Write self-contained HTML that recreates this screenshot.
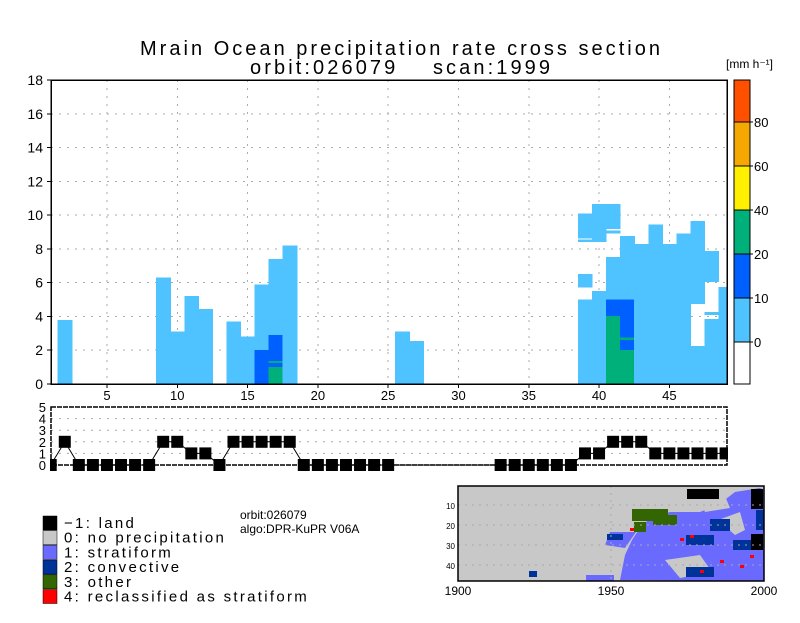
<!DOCTYPE html>
<html><head><meta charset="utf-8">
<style>
body{margin:0;background:#fff;}
svg text{font-family:"Liberation Sans","DejaVu Sans",sans-serif;fill:#000;}
</style></head>
<body>
<svg id="chart" width="800" height="618" xmlns="http://www.w3.org/2000/svg">
<text x="400" y="55" text-anchor="middle" font-size="20" textLength="520">Mrain Ocean precipitation rate cross section</text>
<text x="400" y="74" text-anchor="middle" font-size="20" textLength="300" xml:space="preserve">orbit:026079    scan:1999</text>
<g id="main" shape-rendering="crispEdges"></g>
<g id="cbar"></g>
<g id="lower"></g>
<text x="240" y="519" font-size="12">orbit:026079</text>
<text x="240" y="533" font-size="12">algo:DPR-KuPR V06A</text>
<g id="legend"></g>
<g id="map"></g>
</svg>
<script>
const NS="http://www.w3.org/2000/svg";
function mk(tag,attrs,parent){const e=document.createElementNS(NS,tag);for(const k in attrs)e.setAttribute(k,attrs[k]);parent.appendChild(e);return e;}
// ---- data ----
const xTicks=[5,10,15,20,25,30,35,40,45];
const yTicks=[0,2,4,6,8,10,12,14,16,18];
const cbLevels=[0,10,20,40,60,80];
const cbColors=["#ffffff","#4fc3ff","#0060ff","#00b07a","#ffef00","#f5a800","#ff5000"];
const segBins=[2,9,10,11,12,14,15,16,16,17,17,17,17,18,26,27,
39,39,39,39,40,40,41,41,41,41,41,42,42,42,42,42,43,44,45,46,47,47,48,48,48,49];
const segBottom=[0,0,0,0,0,0,0,0,0,0,0,0,1.25,0,0,0,
0,5.7,8.62,8.42,0,8.42,0,4.02,0,8.9,9.17,0,2.0,2.62,0,2.74,0,0,0,0,0,4.73,0,4.1,6.05,0];
const segTop=[3.8,6.3,3.1,5.2,4.45,3.7,2.8,5.9,2.0,7.4,2.9,1.0,1.35,8.2,3.1,2.55,
5.0,6.5,10.1,8.55,5.5,10.65,7.53,5.0,4.02,9.1,10.65,8.76,5.0,2.74,2.0,2.62,8.28,9.43,8.28,8.9,2.25,9.64,3.85,4.26,7.87,5.74];
const segColor=[1,1,1,1,1,1,1,1,2,1,2,3,3,1,1,1,
1,1,1,1,1,1,1,2,3,1,1,1,2,3,3,2,1,1,1,1,1,1,1,1,1,1];
const typeBins=[];for(let i=1;i<=49;i++)typeBins.push(i);
const typeVals=[0,2,0,0,0,0,0,0,2,2,1,1,0,2,2,2,2,2,0,0,0,0,0,0,0,null,null,null,null,null,null,null,0,0,0,0,0,0,1,1,2,2,2,1,1,1,1,1,1];
// ---- axes ----
const X0=51,X1=727,Y0=80,Y1=384;
const xmin=1.02,xmax=49.1;
const sx=v=>X0+(v-xmin)/(xmax-xmin)*(X1-X0);
const sy=v=>Y1-v/18*(Y1-Y0);
const main=document.getElementById('main');
mk('rect',{x:X0,y:Y0,width:X1-X0,height:Y1-Y0,fill:'#fff'},main);
xTicks.forEach(t=>{const l=mk('line',{x1:sx(t),x2:sx(t),y1:Y0,y2:Y1,stroke:'#aaa','stroke-dasharray':'2,6'},main);
});
yTicks.forEach(t=>{if(t>0&&t<18){const l=mk('line',{x1:X0,x2:X1,y1:sy(t),y2:sy(t),stroke:'#aaa','stroke-dasharray':'2,6'},main);
}});
const cellW=sx(2)-sx(1);
segBins.forEach((b,i)=>{
 let x0=Math.max(X0,sx(b)-cellW/2),x1=Math.min(X1,sx(b)+cellW/2+0.6);
 const r=mk('rect',{x:x0,y:sy(segTop[i]),width:x1-x0,height:sy(segBottom[i])-sy(segTop[i]),fill:cbColors[segColor[i]]},main);
 
});
mk('rect',{x:X0,y:Y0,width:X1-X0,height:Y1-Y0,fill:'none',stroke:'#000','stroke-width':1.5},main);
xTicks.forEach(t=>{mk('line',{x1:sx(t),x2:sx(t),y1:Y1,y2:Y1+4,stroke:'#000'},main);
 const tx=mk('text',{x:sx(t),y:Y1+16,'text-anchor':'middle','font-size':13},main);tx.textContent=t;
 });
yTicks.forEach(t=>{mk('line',{x1:X0-4,x2:X0,y1:sy(t),y2:sy(t),stroke:'#000'},main);
 const tx=mk('text',{x:X0-8,y:sy(t)+5,'text-anchor':'end','font-size':14},main);tx.textContent=t;
 });
// ---- colorbar ----
const cb=document.getElementById('cbar');
const CX=734,CW=16;
const cby=i=>342-i*44;
mk('rect',{x:CX,y:342,width:CW,height:42,fill:cbColors[0]},cb);
for(let i=0;i<cbLevels.length;i++){
 const top=i<cbLevels.length-1?cby(i+1):80;
 const r=mk('rect',{x:CX,y:top,width:CW,height:cby(i)-top,fill:cbColors[i+1]},cb);
 
 mk('line',{x1:CX,x2:CX+CW+3,y1:cby(i),y2:cby(i),stroke:'#000'},cb);
 const tx=mk('text',{x:CX+20,y:cby(i)+5,'font-size':13},cb);tx.textContent=cbLevels[i];
 
}
mk('rect',{x:CX,y:80,width:CW,height:304,fill:'none',stroke:'#000'},cb);
const u=mk('text',{x:726,y:68,'font-size':12},cb);u.textContent='[mm h\u207B\u00B9]';

// ---- lower panel ----
const lo=document.getElementById('lower');
const LY0=407,LY1=465;
const ly=v=>LY1-v/5*(LY1-LY0);
mk('rect',{x:X0,y:LY0,width:X1-X0,height:LY1-LY0,fill:'#fff'},lo);
[1,2,3,4].forEach(t=>mk('line',{x1:X0,x2:X1,y1:ly(t),y2:ly(t),stroke:'#aaa','stroke-dasharray':'2,6'},lo));
let pts=typeBins.map((b,i)=>sx(b).toFixed(1)+','+ly(typeVals[i]===null?0:typeVals[i]).toFixed(1)).join(' ');
const pl=mk('polyline',{points:pts,fill:'none',stroke:'#000','stroke-width':1},lo);

typeBins.forEach((b,i)=>{if(typeVals[i]===null)return;
 let x0=Math.max(X0-1,sx(b)-6),x1=Math.min(X1+1,sx(b)+6);
 const r=mk('rect',{x:x0,y:ly(typeVals[i])-6,width:x1-x0,height:12,fill:'#000'},lo);
 });
mk('rect',{x:X0,y:LY0,width:X1-X0,height:LY1-LY0,fill:'none',stroke:'#000','stroke-width':1.5,'stroke-dasharray':'5,1'},lo);
[0,1,2,3,4,5].forEach(t=>{const tx=mk('text',{x:X0-5,y:ly(t)+5,'text-anchor':'end','font-size':13},lo);tx.textContent=t;
 });
// ---- legend ----
const lg=document.getElementById('legend');
const legLabels=["\u22121: land","0: no precipitation","1: stratiform","2: convective","3: other","4: reclassified as stratiform"];
const legColors=["#000000","#c8c8c8","#6a6aff","#003399","#336600","#ff0000"];
legLabels.forEach((s,i)=>{const y=516+i*14.7;
 const r=mk('rect',{x:43,y:y,width:14,height:14,fill:legColors[i],stroke:'#000','stroke-width':0.5},lg);
 
 const t=mk('text',{x:64,y:y+12,'font-size':15,'letter-spacing':'2.3'},lg);t.textContent=s;
 });
// ---- map ----
const mp=document.getElementById('map');
const MX0=458,MX1=764,MY0=486,MY1=581;
mk('rect',{x:MX0,y:MY0,width:MX1-MX0,height:MY1-MY0,fill:'#c8c8c8'},mp);
mk('path',{d:'M620 580 L625 555 L632 540 L640 528 L650 518 L670 512 L700 512 L718 505 L735 492 L760 488 L764 490 L764 581 Z',fill:'#6a6aff'},mp);
mk('path',{d:'M636 532 L610 532 L605 545 L625 548 Z',fill:'#6a6aff'},mp);
mk('path',{d:'M718 520 L740 512 L745 530 L735 535 Z',fill:'#c8c8c8'},mp);
mk('path',{d:'M700 500 L725 496 L730 508 L705 512 Z',fill:'#c8c8c8'},mp);
mk('path',{d:'M665 560 L700 555 L712 572 L680 578 Z',fill:'#c8c8c8'},mp);
[[650,515,18,6,'#336600'],[665,520,12,5,'#336600'],[640,527,6,5,'#336600'],[700,540,14,5,'#003399'],[720,525,10,6,'#003399'],[745,545,12,5,'#003399'],[700,572,14,5,'#003399'],[615,537,8,3,'#003399'],[703,494,16,5,'#000000'],[757,499,6,10,'#000000'],[757,542,6,8,'#000000'],[533,574,4,3,'#003399'],[600,578,14,3,'#6a6aff'],[760,520,4,10,'#003399']].forEach(b=>mk('rect',{x:b[0]-b[2],y:b[1]-b[3],width:b[2]*2,height:b[3]*2,fill:b[4]},mp));
[[630,528],[680,538],[690,535],[700,570],[740,565],[720,560],[750,555]].forEach(p=>mk('rect',{x:p[0],y:p[1],width:4,height:3,fill:'#ff0000'},mp));
[505,525,545,565].forEach(y=>mk('line',{x1:MX0,x2:MX1,y1:y,y2:y,stroke:'#aaa','stroke-dasharray':'2,5'},mp));
mk('line',{x1:611,x2:611,y1:MY0,y2:MY1,stroke:'#aaa','stroke-dasharray':'2,5'},mp);
mk('rect',{x:MX0,y:MY0,width:MX1-MX0,height:MY1-MY0,fill:'none',stroke:'#000','stroke-width':1.5},mp);
[["10",506],["20",526],["30",546],["40",566]].forEach(a=>{const t=mk('text',{x:455,y:a[1]+3,'text-anchor':'end','font-size':8},mp);t.textContent=a[0];
 });
[["1900",458],["1950",611],["2000",764]].forEach(a=>{const t=mk('text',{x:a[1],y:595,'text-anchor':'middle','font-size':12},mp);t.textContent=a[0];
 });
</script>
</body></html>
